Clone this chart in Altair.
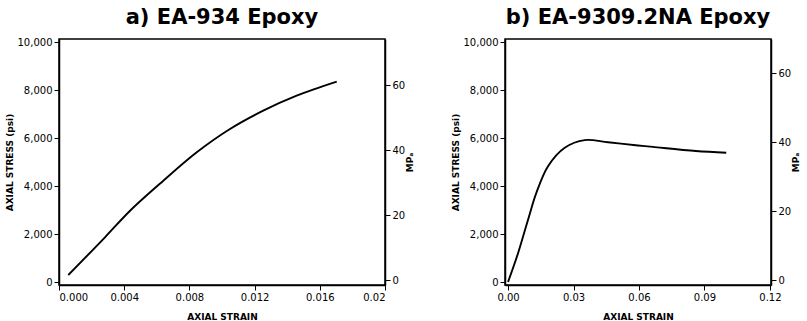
import altair as alt
import pandas as pd

# Panel a) EA-934 Epoxy
strain_a = [0.00057, 0.00282, 0.00436, 0.0064, 0.00845, 0.01049, 0.01253, 0.01458, 0.01704]
stress_a = [292, 1862, 2971, 4221, 5404, 6375, 7138, 7763, 8346]

# Panel b) EA-9309.2NA Epoxy
strain_b = [0.0, 0.00458, 0.00916, 0.01296, 0.01832, 0.02597, 0.03514, 0.04581, 0.05955, 0.0664, 0.0861, 0.1000]
stress_b = [0, 1201, 2594, 3711, 4824, 5594, 5912, 5820, 5690, 5630, 5460, 5385]

title_a = "a) EA-934 Epoxy"
title_b = "b) EA-9309.2NA Epoxy"
psi_ticks = [0, 2000, 4000, 6000, 8000, 10000]
mpa_ticks = [0, 20, 40, 60]
xticks_a = [0, 0.004, 0.008, 0.012, 0.016, 0.02]
xticks_b = [0, 0.03, 0.06, 0.09, 0.12]
PSI_TO_MPA = 0.006895

df_a = pd.DataFrame({"strain": strain_a, "stress": stress_a})
df_b = pd.DataFrame({"strain": strain_b, "stress": stress_b})

LBL = dict(labelFont="DejaVu Sans", labelFontSize=10, labelColor="black",
           titleFont="DejaVu Sans", titleFontSize=9, titleFontWeight="bold",
           titleColor="black", domainColor="black", tickColor="black",
           tickSize=5, labelPadding=2, grid=False)


def panel(df, title, xdom, xticks, xfmt, mpadom, w):
    base = alt.Chart(df)
    line = base.mark_line(color="black", strokeWidth=1.9, interpolate="catmull-rom").encode(
        x=alt.X("strain:Q", scale=alt.Scale(domain=xdom, nice=False, zero=False),
                axis=alt.Axis(values=xticks, labelExpr=xfmt, title="AXIAL STRAIN",
                              titlePadding=10, domainWidth=1.5, **LBL)),
        y=alt.Y("stress:Q", scale=alt.Scale(domain=[-125, 10125], nice=False),
                axis=alt.Axis(values=psi_ticks, format=",d", title="AXIAL STRESS (psi)",
                              titlePadding=3, domainWidth=1.5, **LBL)),
    )
    right = base.transform_calculate(mpa=f"datum.stress*{PSI_TO_MPA}").mark_line(opacity=0).encode(
        x=alt.X("strain:Q", scale=alt.Scale(domain=xdom, nice=False, zero=False)),
        y=alt.Y("mpa:Q", scale=alt.Scale(domain=mpadom, nice=False),
                axis=alt.Axis(orient="right", values=mpa_ticks, format="d", title="MPₐ",
                              titleAngle=270, titlePadding=10, domainWidth=1.5, **LBL)),
    )
    return alt.layer(line, right).resolve_scale(y="independent").properties(
        width=w, height=246,
        title=alt.TitleParams(title, font="DejaVu Sans", fontSize=21, fontWeight="bold",
                              color="black", offset=9, anchor="middle"),
    )


fmt_a = "abs(datum.value-0.02)<1e-9 ? '0.02' : format(datum.value, '.3f')"
fmt_b = "format(datum.value, '.2f')"

pa = panel(df_a, title_a, [0, 0.02], xticks_a, fmt_a, [-1.5, 74.2], 326)
pb = panel(df_b, title_b, [-0.0014, 0.1205], xticks_b, fmt_b, [-1.45, 69.9], 266)

chart = alt.hconcat(pa, pb, spacing=34).properties(
    padding={"left": 4, "top": 6, "right": 0, "bottom": 0},
    background="white",
).configure_view(stroke="black", strokeWidth=1.5)

chart.save("out.html", embed_options={"renderer": "svg", "actions": False})
